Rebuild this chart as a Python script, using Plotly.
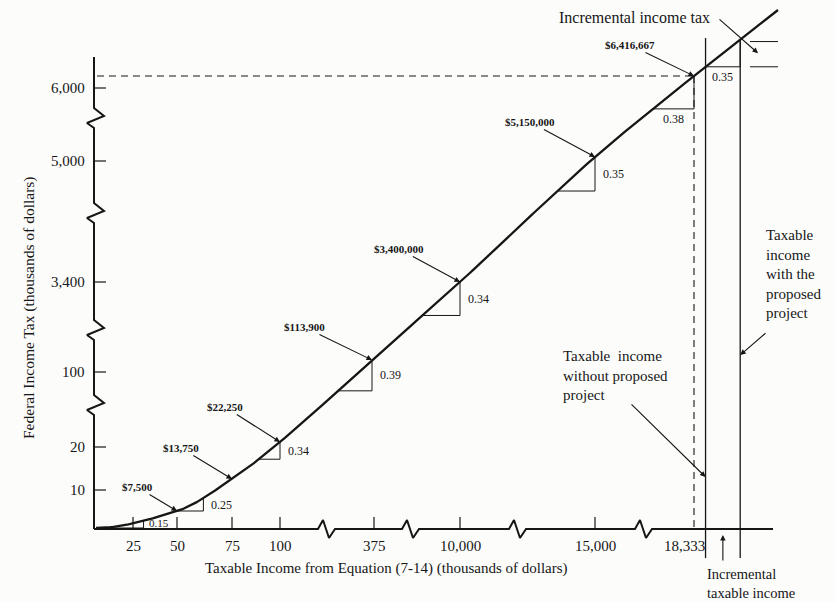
import numpy as np
import plotly.graph_objects as go

# ---------------------------------------------------------------------------
# Corporate tax schedule (thousands of dollars)
# ---------------------------------------------------------------------------
bracket_income = [0, 50, 75, 100, 335, 10000, 15000, 18333.33]
bracket_tax = [0, 7.5, 13.75, 22.25, 113.9, 3400, 5150, 6416.667]
marginal_rate = [0.15, 0.25, 0.34, 0.39, 0.34, 0.35, 0.38, 0.35]

# Axis ticks
x_tick_values = [25, 50, 75, 100, 375, 10000, 15000, 18333.33]
x_tick_text = ["25", "50", "75", "100", "375", "10,000", "15,000", "18,333"]
y_tick_values = [10, 20, 100, 3400, 5000, 6000]
y_tick_text = ["10", "20", "100", "3,400", "5,000", "6,000"]

# Taxable income of the firm without / with the proposed project
income_without_project = 18700
income_with_project = 19800
income_end = 21000

# Slope triangles: income at the vertical leg and where the horizontal leg
# meets the curve; one per marginal rate
triangle_top_income = [31, 62, 100, 335, 10000, 15000, 18333.33, income_with_project]
triangle_left_income = [0, 50, 89, 248, 5800, 13600, 16950, income_without_project]

# ---------------------------------------------------------------------------
# Broken-axis schematic scales (value -> drawing position)
# ---------------------------------------------------------------------------
X_SCALE = [(0, 96), (25, 133), (50, 177), (75, 232), (100, 280), (335, 372),
           (375, 374), (10000, 460), (15000, 595), (18333.33, 694), (21000, 778)]
Y_SCALE = [(0, 528), (7.5, 511), (10, 490), (13.75, 479), (20, 447), (22.25, 442),
           (100, 372), (113.9, 360), (3400, 282), (5000, 161), (5150, 157),
           (6000, 88), (6416.667, 76), (7350, 10)]


def sx(v):
    return np.interp(v, [a for a, _ in X_SCALE], [b for _, b in X_SCALE])


def sy(v):
    return np.interp(v, [a for a, _ in Y_SCALE], [b for _, b in Y_SCALE])


def tax(income):
    inc = list(bracket_income)
    tx = list(bracket_tax)
    if income <= inc[-1]:
        return float(np.interp(income, inc, tx))
    return tx[-1] + marginal_rate[-1] * (income - inc[-1])


# Smooth curve through the bracket points (Hermite, flat at the origin)
knot_income = bracket_income + [income_end]
kx = np.array([sx(v) for v in knot_income])
ky = np.array([sy(tax(v)) for v in knot_income])
d = np.diff(ky) / np.diff(kx)
m = np.zeros(len(kx))
for k in range(1, len(kx) - 1):
    if d[k - 1] * d[k] > 0:
        m[k] = 2.0 / (1.0 / d[k - 1] + 1.0 / d[k])
m[-1] = d[-1]
cx, cy = [], []
for k in range(len(kx) - 1):
    h = kx[k + 1] - kx[k]
    t = np.linspace(0, 1, 40, endpoint=(k == len(kx) - 2))
    h00 = 2 * t**3 - 3 * t**2 + 1
    h10 = t**3 - 2 * t**2 + t
    h01 = -2 * t**3 + 3 * t**2
    h11 = t**3 - t**2
    cx.extend(kx[k] + t * h)
    cy.extend(h00 * ky[k] + h10 * h * m[k] + h01 * ky[k + 1] + h11 * h * m[k + 1])
cx = np.array(cx)
cy = np.array(cy)


def on_curve(income):
    x = float(sx(income))
    return x, float(np.interp(x, cx, cy))


INK = "#161616"
SERIF = "Liberation Serif"
fig = go.Figure()


def seg(xs, ys, width=1.0, dash=None, color=INK):
    fig.add_trace(go.Scatter(x=xs, y=ys, mode="lines", hoverinfo="skip",
                             showlegend=False,
                             line=dict(color=color, width=width, dash=dash)))


# ---- axes with break marks ----
AX_X0, AX_Y0 = 94, 529
X_END, Y_TOP = 773, 57
X_BREAKS = [326, 410, 517, 643]
Y_BREAKS = [405, 330, 213, 118]

ax_x, ax_y = [AX_X0], [AX_Y0]
for c in X_BREAKS:
    ax_x += [c - 8, c - 3, c + 3, c + 9]
    ax_y += [AX_Y0, AX_Y0 - 9, AX_Y0 + 9, AX_Y0]
ax_x.append(X_END)
ax_y.append(AX_Y0)
seg(ax_x, ax_y, width=2.0)

ay_x, ay_y = [AX_X0], [AX_Y0]
for c in Y_BREAKS:
    ay_x += [AX_X0, AX_X0 - 7, AX_X0 + 10, AX_X0]
    ay_y += [c + 10, c + 5, c - 2, c - 10]
ay_x.append(AX_X0)
ay_y.append(Y_TOP)
seg(ay_x, ay_y, width=2.0)

# ticks and tick labels
for v, t in zip(x_tick_values, x_tick_text):
    px = float(sx(v))
    shift = 0
    if v == bracket_income[-1]:
        shift = -10
    else:
        seg([px, px], [AX_Y0, AX_Y0 - 12], width=1.2)
    fig.add_annotation(x=px, y=546, text=t, showarrow=False, xshift=shift,
                       font=dict(family=SERIF, size=15, color=INK))
for v, t in zip(y_tick_values, y_tick_text):
    py = float(sy(v))
    seg([AX_X0, AX_X0 + 12], [py, py], width=1.2)
    fig.add_annotation(x=87, y=py, text=t, showarrow=False, xanchor="right",
                       font=dict(family=SERIF, size=15, color=INK))

# ---- dashed guide lines at the top bracket boundary ----
bx, by = on_curve(bracket_income[-1])
seg([AX_X0 + 3, bx], [by, by], width=1.1, dash="7px,5px")
seg([bx, bx], [by, AX_Y0], width=1.1, dash="7px,5px")

# ---- taxable income with / without the project ----
wx0, wy0 = on_curve(income_without_project)
wx1, wy1 = on_curve(income_with_project)
seg([wx0, wx0], [38, 558], width=1.3)
seg([wx1, wx1], [wy1, 558], width=1.3)
seg([750, 778], [wy1 + 2, wy1 + 2], width=1.0)
seg([750, 778], [wy0, wy0], width=1.0)

# ---- slope triangles ----
for k, (ti, li) in enumerate(zip(triangle_top_income, triangle_left_income)):
    tx_, ty_ = on_curve(ti)
    lx_, ly_ = on_curve(li)
    if li == 0:
        ly_ = AX_Y0 - 1
    seg([tx_, tx_, lx_], [ty_, ly_, ly_], width=1.0)
    label = f"{marginal_rate[k]:.2f}"
    if k >= 6:
        fig.add_annotation(x=(tx_ + lx_) / 2, y=ly_ + 10, text=label, showarrow=False,
                           font=dict(family=SERIF, size=12, color=INK))
    elif k == 0:
        fig.add_annotation(x=tx_ + 3, y=ty_ + 2, text=label, showarrow=False,
                           xanchor="left",
                           font=dict(family=SERIF, size=11, color=INK))
    else:
        fig.add_annotation(x=tx_ + 6, y=(ty_ + ly_) / 2, text=label, showarrow=False,
                           xanchor="left",
                           font=dict(family=SERIF, size=12, color=INK))

# ---- tax curve ----
seg(cx, cy, width=2.3)

# ---- call-outs for tax at each bracket boundary ----
callout_offsets = [(-40, -24), (-51, -31), (-55, -35), (-68, -33),
                   (-61, -33), (-65, -35), (-64, -31)]
for inc, tx_amt, (dx, dy) in zip(bracket_income[1:], bracket_tax[1:], callout_offsets):
    px, py = on_curve(inc)
    fig.add_annotation(x=px, y=py, ax=dx, ay=dy, text=f"<b>${tx_amt * 1000:,.0f}</b>",
                       showarrow=True, arrowhead=2, arrowsize=1, arrowwidth=1.1,
                       arrowcolor=INK, standoff=0,
                       font=dict(family=SERIF, size=11, color=INK))


# ---- explanatory notes ----
def arrow(x0, y0, x1, y1):
    fig.add_annotation(x=x1, y=y1, ax=x0, ay=y0, axref="x", ayref="y", text="",
                       showarrow=True, arrowhead=2, arrowsize=1, arrowwidth=1.1,
                       arrowcolor=INK)


def note(x, y, text, anchor="left", size=15):
    fig.add_annotation(x=x, y=y, text=text, showarrow=False, xanchor=anchor,
                       align=anchor, font=dict(family=SERIF, size=size, color=INK))


note(712, 17, "Incremental income tax", anchor="right", size=16)
arrow(718, 18, 758, (wy0 + wy1) / 2)

note(561, 375, "Taxable  income<br>without proposed<br>project")
arrow(630, 403, wx0, 477)

note(764, 274, "Taxable<br>income<br>with the<br>proposed<br>project")
arrow(767, 332, wx1, 355)

note(705, 583, "Incremental<br>taxable income", size=14.5)
arrow((wx0 + wx1) / 2, 562, (wx0 + wx1) / 2, 535)

# axis titles
fig.add_annotation(x=386, y=568, text="Taxable Income from Equation (7-14) (thousands of dollars)",
                   showarrow=False, font=dict(family=SERIF, size=15, color=INK))
fig.add_annotation(x=29, y=308, text="Federal Income Tax (thousands of dollars)",
                   textangle=-90, showarrow=False,
                   font=dict(family=SERIF, size=15.5, color=INK))

fig.update_layout(
    width=836, height=602, autosize=False,
    margin=dict(l=0, r=0, t=0, b=0),
    paper_bgcolor="#fcfcfb", plot_bgcolor="#fcfcfb",
    xaxis=dict(range=[0, 836], visible=False, fixedrange=True),
    yaxis=dict(range=[602, 0], visible=False, fixedrange=True),
    showlegend=False,
)

fig.write_html("out.html")
